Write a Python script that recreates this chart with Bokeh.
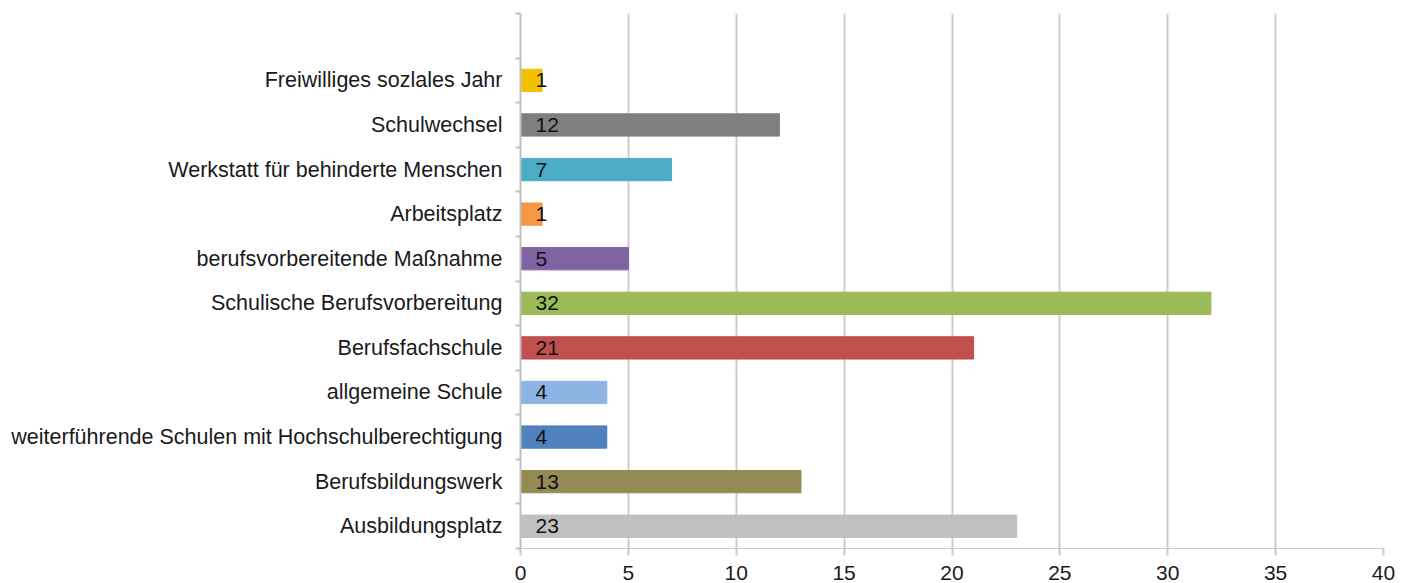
from bokeh.plotting import figure
from bokeh.models import ColumnDataSource, Range1d, FixedTicker
from bokeh.core.properties import value
from bokeh.embed import file_html
from bokeh.resources import INLINE

# bottom to top
categories = [
    "Ausbildungsplatz",
    "Berufsbildungswerk",
    "weiterführende Schulen mit Hochschulberechtigung",
    "allgemeine Schule",
    "Berufsfachschule",
    "Schulische Berufsvorbereitung",
    "berufsvorbereitende Maßnahme",
    "Arbeitsplatz",
    "Werkstatt für behinderte Menschen",
    "Schulwechsel",
    "Freiwilliges sozlales Jahr",
]
values = [23, 13, 4, 4, 21, 32, 5, 1, 7, 12, 1]
colors = ["#BFBFBF", "#948A54", "#4F81BD", "#8DB4E2", "#C0504D", "#9BBB59",
          "#8064A2", "#F79646", "#4BACC6", "#7F7F7F", "#F2C200"]
x_ticks = [0, 5, 10, 15, 20, 25, 30, 35, 40]

pos = list(range(len(categories)))
src = ColumnDataSource(dict(y=pos, v=values, c=colors, t=[str(v) for v in values]))

FONT = "Liberation Sans"

p = figure(frame_width=863, frame_height=535, output_backend="svg", toolbar_location=None,
           x_range=Range1d(0, 40), y_range=Range1d(-0.5, len(categories) + 0.5),
           min_border_left=520, min_border_top=13, min_border_right=20, min_border_bottom=34)
p.outline_line_color = None
p.background_fill_color = "white"

p.hbar(y="y", left=0, right="v", height=0.5, color="c", source=src)
p.text(x=0, y="y", text="t", source=src, x_offset=15, text_align="left", text_baseline="middle",
       text_font=value(FONT), text_font_size="21px", text_color="#111111")

p.ygrid.grid_line_color = None
p.xgrid.grid_line_color = "#CDCDCD"
p.xgrid.grid_line_width = 2
p.xgrid.ticker = FixedTicker(ticks=x_ticks)

xa = p.xaxis[0]
xa.ticker = FixedTicker(ticks=x_ticks)
xa.axis_line_color = "#C8C8C8"
xa.major_tick_line_color = "#C8C8C8"
xa.major_tick_line_width = 2
xa.major_tick_out = 7
xa.major_tick_in = 0
xa.minor_tick_line_color = None
xa.major_label_standoff = 10
xa.major_label_text_font = FONT
xa.major_label_text_font_size = "21px"
xa.major_label_text_color = "#1A1A1A"

ya = p.yaxis[0]
ya.ticker = FixedTicker(ticks=pos, minor_ticks=[i - 0.5 for i in range(len(categories) + 2)])
ya.major_label_overrides = {i: c for i, c in zip(pos, categories)}
ya.axis_line_color = "#BFBFBF"
ya.axis_line_width = 2
ya.major_tick_line_color = None
ya.major_tick_out = 0
ya.major_tick_in = 0
ya.minor_tick_line_color = "#BFBFBF"
ya.minor_tick_line_width = 2
ya.minor_tick_out = 5
ya.minor_tick_in = 0
ya.major_label_standoff = 13
ya.major_label_text_font = FONT
ya.major_label_text_font_size = "21.5px"
ya.major_label_text_color = "#1A1A1A"

open("out.html", "w").write(file_html(p, INLINE))
